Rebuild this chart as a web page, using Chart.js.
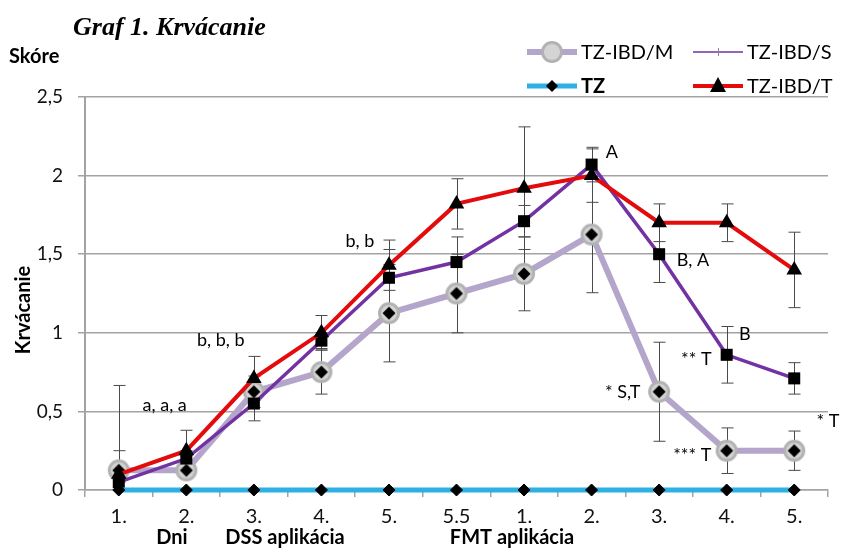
<!DOCTYPE html>
<html>
<head>
<meta charset="utf-8">
<script src="https://cdn.jsdelivr.net/npm/chart.js@4.4.1/dist/chart.umd.min.js"></script>
<style>
  html, body { margin: 0; padding: 0; background: #fff; }
  canvas { display: block; }
</style>
</head>
<body>
<canvas id="chart" width="843" height="554"></canvas>
<script>
// categories (days of DSS application, then FMT application)
const categories = ["1.", "2.", "3.", "4.", "5.", "5.5", "1.", "2.", "3.", "4.", "5."];
const yTicks = [0, 0.5, 1, 1.5, 2, 2.5];

// mean bleeding scores per group
const tzValues = [0, 0, 0, 0, 0, 0, 0, 0, 0, 0, 0];
const mValues = [0.125, 0.125, 0.625, 0.75, 1.125, 1.25, 1.375, 1.625, 0.625, 0.25, 0.25];
const sValues = [0.05, 0.2, 0.55, 0.95, 1.35, 1.45, 1.71, 2.07, 1.5, 0.86, 0.71];
const tValues = [0.1, 0.25, 0.71, 1.0, 1.43, 1.82, 1.92, 2.0, 1.7, 1.7, 1.4];

// error bar half-widths
const mErrors = [0.54, 0.05, 0.1, 0.14, 0.31, 0.25, 0.235, 0.37, 0.315, 0.145, 0.125];
const sErrors = [0.2, 0.05, 0.11, 0.05, 0.18, 0.16, 0.1, 0.11, 0.18, 0.18, 0.1];
const tErrors = [0.05, 0.13, 0.14, 0.11, 0.16, 0.16, 0.39, 0.17, 0.12, 0.12, 0.24];

// significance labels: [text, category index, value]
const annotations = [
  ["a, a, a", 0.68, 0.54],
  ["b, b, b", 1.51, 0.955],
  ["b, b", 3.57, 1.58],
  ["A", 7.3, 2.15],
  ["B, A", 8.5, 1.465],
  ["B", 9.27, 0.99],
  ["** T", 8.55, 0.83],
  ["* S,T", 7.46, 0.62],
  ["*** T", 8.49, 0.22],
  ["* T", 10.5, 0.44],
];

const FONT = "Lato, 'Open Sans', sans-serif";
const GRID = "#a3a3a3";
const COLORS = {
  tz: "#2eb0e2",
  m: "#b4a5cb",
  s: "#7232a2",
  t: "#e30b0b",
};

// gray circle with black diamond, used for TZ-IBD/M markers
function makeCircleDiamond(withDiamond) {
  const c = document.createElement("canvas");
  c.width = 24;
  c.height = 24;
  const g = c.getContext("2d");
  g.beginPath();
  g.arc(12, 12, 9.5, 0, Math.PI * 2);
  g.fillStyle = "#d4d4d4";
  g.fill();
  g.lineWidth = 3;
  g.strokeStyle = "#b2b2b2";
  g.stroke();
  if (withDiamond) {
    g.beginPath();
    g.moveTo(12, 5.5);
    g.lineTo(18.5, 12);
    g.lineTo(12, 18.5);
    g.lineTo(5.5, 12);
    g.closePath();
    g.fillStyle = "#000";
    g.fill();
  }
  return c;
}
const mMarker = makeCircleDiamond(true);
const mLegendMarker = makeCircleDiamond(false);

function fmt(v) {
  return String(v).replace(".", ",");
}

const decorPlugin = {
  id: "decor",
  beforeDatasetsDraw(chart) {
    const ctx = chart.ctx;
    const y = chart.scales.y;
    const sets = [[1, mErrors, mValues], [2, sErrors, sValues], [3, tErrors, tValues]];
    ctx.save();
    ctx.strokeStyle = "#4a4a4a";
    ctx.lineWidth = 1;
    sets.forEach(([idx, errs, vals]) => {
      const meta = chart.getDatasetMeta(idx);
      meta.data.forEach((pt, j) => {
        const hi = y.getPixelForValue(Math.min(2.5, vals[j] + errs[j]));
        const lo = y.getPixelForValue(Math.max(0, vals[j] - errs[j]));
        const x = Math.round(pt.x) + 0.5;
        ctx.beginPath();
        ctx.moveTo(x, hi);
        ctx.lineTo(x, lo);
        if (vals[j] + errs[j] <= 2.5) {
          ctx.moveTo(x - 6, hi);
          ctx.lineTo(x + 6, hi);
        }
        if (vals[j] - errs[j] >= 0) {
          ctx.moveTo(x - 6, lo);
          ctx.lineTo(x + 6, lo);
        }
        ctx.stroke();
      });
    });
    ctx.restore();
  },
  afterDraw(chart) {
    const ctx = chart.ctx;
    const xs = chart.scales.x;
    const ys = chart.scales.y;
    const step = xs.getPixelForValue(1) - xs.getPixelForValue(0);
    ctx.save();
    ctx.fillStyle = "#000";

    // title
    ctx.font = "italic bold 26px 'Liberation Serif', 'DejaVu Serif', serif";
    ctx.textBaseline = "middle";
    ctx.textAlign = "left";
    ctx.fillText("Graf 1. Krvácanie", 73, 28);

    ctx.font = "bold 20px " + FONT;
    ctx.fillText("Skóre", 9, 57);

    // y axis title
    ctx.save();
    ctx.translate(24, 310);
    ctx.rotate(-Math.PI / 2);
    ctx.textAlign = "center";
    ctx.fillText("Krvácanie", 0, 0);
    ctx.restore();

    // phase labels under x axis
    ctx.textAlign = "center";
    ctx.fillText("Dni", 172, 538);
    ctx.fillText("DSS aplikácia", 285, 538);
    ctx.fillText("FMT aplikácia", 512, 538);

    // significance labels
    ctx.font = "18px " + FONT;
    annotations.forEach(([text, i, v]) => {
      const px = xs.getPixelForValue(0) + i * step;
      ctx.fillText(text, px, ys.getPixelForValue(v));
    });

    // legend
    const rows = [
      { x: 527, y: 52, label: "TZ-IBD/M", color: COLORS.m, lw: 6, marker: "m", bold: false },
      { x: 693, y: 52, label: "TZ-IBD/S", color: COLORS.s, lw: 1.5, marker: "s", bold: false },
      { x: 527, y: 86, label: "TZ", color: COLORS.tz, lw: 5, marker: "tz", bold: true },
      { x: 693, y: 86, label: "TZ-IBD/T", color: COLORS.t, lw: 4, marker: "t", bold: false },
    ];
    rows.forEach((r) => {
      const cx = r.x + 25;
      ctx.beginPath();
      ctx.strokeStyle = r.color;
      ctx.lineWidth = r.lw;
      ctx.moveTo(r.x, r.y);
      ctx.lineTo(r.x + 50, r.y);
      ctx.stroke();
      ctx.fillStyle = "#000";
      if (r.marker === "m") {
        ctx.drawImage(mLegendMarker, cx - 12, r.y - 12);
      } else if (r.marker === "s") {
        ctx.strokeStyle = "#888";
        ctx.lineWidth = 1;
        ctx.beginPath();
        ctx.moveTo(cx + 0.5, r.y - 4);
        ctx.lineTo(cx + 0.5, r.y + 4);
        ctx.stroke();
      } else if (r.marker === "tz") {
        ctx.beginPath();
        ctx.moveTo(cx, r.y - 6);
        ctx.lineTo(cx + 6, r.y);
        ctx.lineTo(cx, r.y + 6);
        ctx.lineTo(cx - 6, r.y);
        ctx.closePath();
        ctx.fill();
      } else if (r.marker === "t") {
        ctx.beginPath();
        ctx.moveTo(cx, r.y - 9);
        ctx.lineTo(cx + 8, r.y + 6);
        ctx.lineTo(cx - 8, r.y + 6);
        ctx.closePath();
        ctx.fill();
      }
      ctx.fillStyle = "#000";
      ctx.textAlign = "left";
      ctx.font = (r.bold ? "bold " : "") + "20px " + FONT;
      ctx.fillText(r.label, r.x + 54, r.y + 1);
    });
    ctx.restore();
  },
};

new Chart(document.getElementById("chart"), {
  type: "line",
  data: {
    labels: categories,
    datasets: [
      {
        label: "TZ",
        data: tzValues,
        borderColor: COLORS.tz,
        borderWidth: 5,
        pointStyle: "rectRot",
        pointRadius: 6,
        pointBackgroundColor: "#000",
        pointBorderColor: "#000",
        pointBorderWidth: 1,
        clip: false,
        order: 0,
      },
      {
        label: "TZ-IBD/M",
        data: mValues,
        borderColor: COLORS.m,
        borderWidth: 6,
        pointStyle: mMarker,
        clip: false,
        order: 3,
      },
      {
        label: "TZ-IBD/S",
        data: sValues,
        borderColor: COLORS.s,
        borderWidth: 3.5,
        pointStyle: "rect",
        pointRadius: 8.5,
        pointBackgroundColor: "#000",
        pointBorderColor: "#000",
        pointBorderWidth: 0,
        clip: false,
        order: 2,
      },
      {
        label: "TZ-IBD/T",
        data: tValues,
        borderColor: COLORS.t,
        borderWidth: 4,
        pointStyle: "triangle",
        pointRadius: 9,
        pointBackgroundColor: "#000",
        pointBorderColor: "#000",
        pointBorderWidth: 0,
        clip: false,
        order: 1,
      },
    ],
  },
  options: {
    responsive: false,
    animation: false,
    devicePixelRatio: 1,
    layout: { padding: { top: 97, right: 15, left: 0, bottom: 0 } },
    elements: { line: { tension: 0 } },
    plugins: {
      legend: { display: false },
      tooltip: { enabled: false },
    },
    scales: {
      x: {
        offset: true,
        afterFit(scale) {
          scale.height = 64;
        },
        grid: {
          offset: true,
          drawOnChartArea: false,
          drawTicks: true,
          tickLength: 7,
          color: GRID,
          lineWidth: 1.5,
        },
        border: { color: GRID, width: 1.5 },
        ticks: {
          color: "#111",
          padding: 8,
          maxRotation: 0,
          autoSkip: false,
          font: { family: FONT, size: 20 },
        },
      },
      y: {
        min: 0,
        max: 2.5,
        afterFit(scale) {
          scale.width = 85;
        },
        afterBuildTicks(scale) {
          scale.ticks = yTicks.map((v) => ({ value: v }));
        },
        grid: {
          color: GRID,
          lineWidth: 1.5,
          tickLength: 7,
        },
        border: { color: GRID, width: 2 },
        ticks: {
          color: "#111",
          padding: 15,
          font: { family: FONT, size: 19 },
          callback: (v) => fmt(v),
        },
      },
    },
  },
  plugins: [decorPlugin],
});
</script>
</body>
</html>
